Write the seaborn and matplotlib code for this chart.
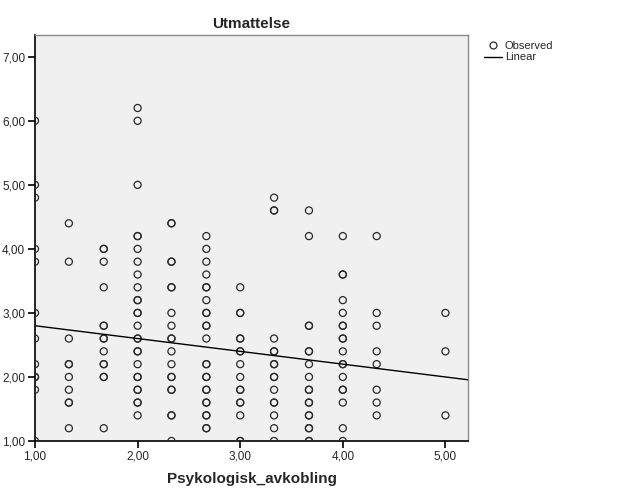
import numpy as np
import pandas as pd
import seaborn as sns
import matplotlib
matplotlib.use("Agg")
import matplotlib.pyplot as plt
from matplotlib.lines import Line2D
from matplotlib.ticker import FuncFormatter

# Observed values per x-column (duplicates for overlapping points)
x_levels = [1.00, 1.33, 1.67, 2.00, 2.33, 2.67, 3.00, 3.33, 3.67, 4.00, 4.33, 5.00]
y_1_00 = [6.0, 5.0, 4.8, 4.0, 3.8, 3.0, 2.6, 2.2, 2.0, 2.0, 1.8, 1.0]
y_1_33 = [4.4, 3.8, 2.6, 2.2, 2.2, 2.0, 1.8, 1.6, 1.6, 1.2]
y_1_67 = [4.0, 4.0, 3.8, 3.4, 2.8, 2.8, 2.6, 2.6, 2.4, 2.2, 2.2, 2.0, 2.0, 1.2]
y_2_00 = [6.2, 6.0, 5.0, 4.2, 4.2, 4.0, 3.8, 3.6, 3.4, 3.2, 3.2, 3.0, 3.0, 2.8,
          2.6, 2.6, 2.4, 2.4, 2.2, 2.0, 2.0, 1.8, 1.8, 1.6, 1.6, 1.4]
y_2_33 = [4.4, 4.4, 3.8, 3.8, 3.4, 3.4, 3.0, 2.8, 2.6, 2.6, 2.4, 2.2, 2.0, 2.0,
          1.8, 1.8, 1.4, 1.4, 1.0]
y_2_67 = [4.2, 4.0, 3.8, 3.6, 3.4, 3.4, 3.2, 3.0, 3.0, 2.8, 2.8, 2.6, 2.2, 2.2,
          2.0, 2.0, 1.8, 1.8, 1.6, 1.6, 1.4, 1.4, 1.2, 1.2]
y_3_00 = [3.4, 3.0, 3.0, 2.6, 2.6, 2.4, 2.4, 2.2, 2.0, 1.8, 1.8, 1.6, 1.6, 1.4, 1.0, 1.0]
y_3_33 = [4.8, 4.6, 4.6, 2.6, 2.4, 2.4, 2.2, 2.2, 2.0, 2.0, 1.8, 1.6, 1.6, 1.4, 1.2, 1.0]
y_3_67 = [4.6, 4.2, 2.8, 2.8, 2.4, 2.4, 2.2, 2.0, 1.8, 1.8, 1.6, 1.6, 1.4, 1.4,
          1.2, 1.2, 1.0, 1.0]
y_4_00 = [4.2, 3.6, 3.6, 3.2, 3.0, 2.8, 2.8, 2.6, 2.6, 2.4, 2.2, 2.2, 2.0, 1.8,
          1.8, 1.6, 1.2, 1.0]
y_4_33 = [4.2, 3.0, 2.8, 2.4, 2.2, 1.8, 1.6, 1.4]
y_5_00 = [3.0, 2.4, 1.4]

columns = [y_1_00, y_1_33, y_1_67, y_2_00, y_2_33, y_2_67, y_3_00, y_3_33,
           y_3_67, y_4_00, y_4_33, y_5_00]

# Linear fit
linear_intercept = 3.00
linear_slope = -0.20

x_range = [1.0, 5.22]
y_range = [1.0, 7.34]

xs, ys = [], []
for xv, col in zip(x_levels, columns):
    xs += [xv] * len(col)
    ys += col
df = pd.DataFrame({"Psykologisk_avkobling": xs, "Utmattelse": ys})
fit_df = pd.DataFrame({"x": x_range,
                       "y": [linear_intercept + linear_slope * v for v in x_range]})

sns.set_style("white")
plt.rcParams["font.family"] = ["Liberation Sans", "DejaVu Sans"]

fig = plt.figure(figsize=(6.26, 5.01), dpi=100)
ax = fig.add_axes([35 / 626, 1 - 441 / 501, (468 - 35) / 626, (441 - 35) / 501])
ax.set_facecolor("#F0F0F0")

sns.scatterplot(data=df, x="Psykologisk_avkobling", y="Utmattelse", ax=ax,
                s=26, facecolors="none", edgecolor="#2a2a2a", linewidth=0.9,
                zorder=3)
sns.lineplot(data=fit_df, x="x", y="y", ax=ax, color="black", linewidth=1.0,
             zorder=4)

ax.set_xlim(*x_range)
ax.set_ylim(*y_range)

ax.set_xticks([1, 2, 3, 4, 5])
ax.set_yticks([1, 2, 3, 4, 5, 6, 7])
fmt = FuncFormatter(lambda v, p: f"{v:.2f}".replace(".", ","))
ax.xaxis.set_major_formatter(fmt)
ax.yaxis.set_major_formatter(fmt)
ax.tick_params(axis="both", direction="out", length=5, width=1.2, color="black",
               labelsize=8.5, pad=2, left=True, bottom=True)

for side in ["left", "bottom"]:
    ax.spines[side].set_color("black")
    ax.spines[side].set_linewidth(1.2)
for side in ["top", "right"]:
    ax.spines[side].set_color("#8a8a8a")
    ax.spines[side].set_linewidth(1.0)

ax.set_title("Utmattelse", fontsize=11, fontweight="bold", pad=5)
ax.set_xlabel("Psykologisk_avkobling", fontsize=11, fontweight="bold", labelpad=7)
ax.set_ylabel("")

handles = [
    Line2D([], [], marker="o", linestyle="none", markerfacecolor="none",
           markeredgecolor="#2a2a2a", markersize=5, markeredgewidth=0.9),
    Line2D([], [], color="black", linewidth=1.0),
]
fig.legend(handles, ["Observed", "Linear"], loc="upper left",
           bbox_to_anchor=(476 / 626, 1 - 33 / 501), frameon=False,
           fontsize=8, handlelength=1.6, handletextpad=0.3, labelspacing=0.15,
           borderpad=0.2)

fig.savefig("out.png", dpi=100)
